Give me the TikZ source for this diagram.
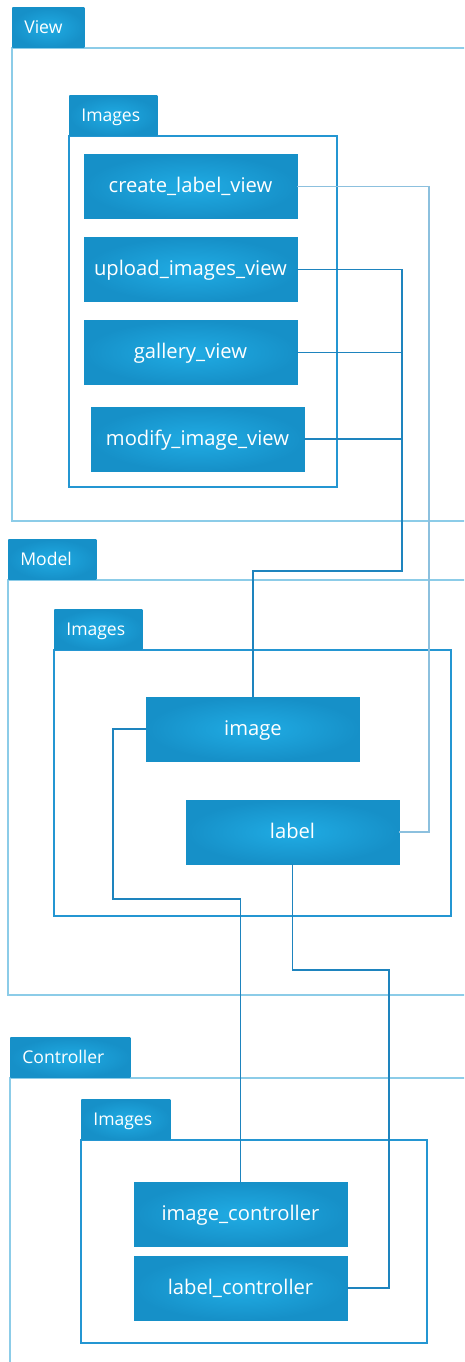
\documentclass[tikz,border=0pt]{standalone}
\usepackage{fontspec}
\setmainfont{Open Sans}
\usepackage{tikz}
\usetikzlibrary{positioning}
\definecolor{boxlight}{RGB}{32,172,228}
\definecolor{boxdark}{RGB}{22,144,200}
\definecolor{framedark}{RGB}{36,150,210}
\definecolor{framelight}{RGB}{140,204,232}
\definecolor{linkdark}{RGB}{30,132,190}
\definecolor{linklight}{RGB}{140,192,222}
\tikzset{
  classbox/.style={
    rectangle,
    inner color=boxlight,
    outer color=boxdark,
    draw=boxdark, line width=0.3pt,
    minimum width=4.26cm,
    minimum height=1.28cm,
    inner sep=0pt,
    text height=1.8ex, text depth=0.5ex,
    text=white,
    font=\fontsize{11.5}{14}\selectfont},
  tab/.style={
    rectangle,
    anchor=south west,
    inner color=boxlight,
    outer color=boxdark,
    minimum height=0.8cm,
    inner xsep=0.24cm, inner ysep=0pt,
    text height=1.8ex, text depth=0.5ex,
    text width=#1,
    align=left,
    text=white,
    font=\fontsize{10}{12}\selectfont},
  outerframe/.style={draw=framelight, line width=0.9pt},
  innerframe/.style={draw=framedark, line width=1.1pt},
  link/.style={draw=linkdark, line width=0.8pt},
  lightlink/.style={draw=linklight, line width=0.8pt},
}
\begin{document}
\begin{tikzpicture}[x=0.02cm, y=-0.02cm]
  \useasboundingbox (0,0) rectangle (464,1362);
  \clip (0,0) rectangle (464,1362);
  % packages
  \draw[outerframe] (470,48) -- (12,48) -- (12,521) -- (470,521);
  \draw[outerframe] (470,580) -- (8,580) -- (8,995) -- (470,995);
  \draw[outerframe] (470,1078) -- (10,1078) -- (10,1370);
  \draw[innerframe] (69,136) rectangle (337,487);
  \draw[innerframe] (54,650) rectangle (451,916);
  \draw[innerframe] (81,1140) rectangle (427,1343);
  \node[tab=0.96cm]  (ViewTab)       at (12,48)   {View};
  \node[tab=1.28cm]  (ViewImages)    at (69,136)  {Images};
  \node[tab=1.28cm]  (ModelTab)      at (8,580)   {Model};
  \node[tab=1.28cm]  (ModelImages)   at (54,650)  {Images};
  \node[tab=1.92cm]  (ControllerTab) at (10,1078) {Controller};
  \node[tab=1.3cm]   (CtrlImages)    at (81,1140) {Images};
  % classes
  \node[classbox] (CreateLabelView)  at (190.5,186.5) {create\_label\_view};
  \node[classbox] (UploadImagesView) at (190.5,269.5) {upload\_images\_view};
  \node[classbox] (GalleryView)      at (190.5,352.5) {gallery\_view};
  \node[classbox] (ModifyImageView)  at (197.5,439)   {modify\_image\_view};
  \node[classbox] (Image)            at (253,729)     {image};
  \node[classbox] (Label)            at (292.5,832)   {label};
  \node[classbox] (ImageController)  at (240.5,1214)  {image\_controller};
  \node[classbox] (LabelController)  at (240.5,1288)  {label\_controller};
  % connectors
  \coordinate (RightBus)  at (429,0);
  \coordinate (ViewBus)   at (402,571);
  \coordinate (ImageBend) at (113,899);
  \coordinate (LabelBend) at (389,970);
  \draw[lightlink] (CreateLabelView.east) -| (RightBus |- Label.east) -- (Label.east);
  \draw[link] (UploadImagesView.east) -| (ViewBus) -| (Image.north);
  \draw[link] (GalleryView.east) -- (GalleryView.east -| ViewBus);
  \draw[link] (ModifyImageView.east) -- (ModifyImageView.east -| ViewBus);
  \draw[link] (Image.west) -| (ImageBend) -| (ImageController.north);
  \draw[link] (Label.south) |- (LabelBend) |- (LabelController.east);
\end{tikzpicture}
\end{document}
